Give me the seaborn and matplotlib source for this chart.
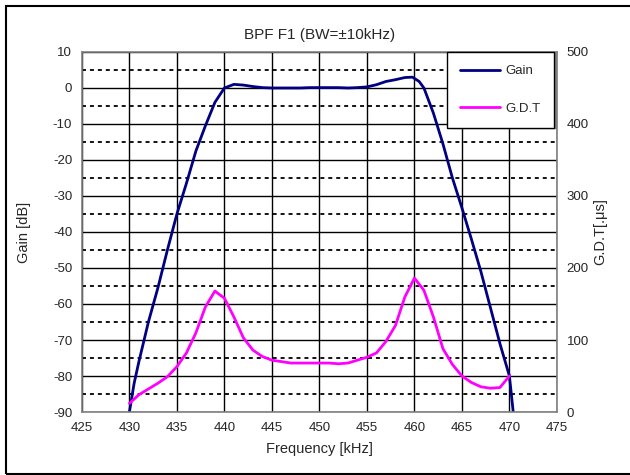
import pandas as pd
import matplotlib.pyplot as plt
import seaborn as sns
from matplotlib.patches import Rectangle

# Gain [dB] vs frequency
gain_freq = [430, 430.5, 431, 432, 433, 434, 435, 436, 437, 438, 439, 440,
             441, 442, 443, 444, 445, 446, 447, 448, 449, 450, 451, 452,
             453, 454, 455, 456, 457, 458, 459, 459.8, 460.5, 461, 462, 463,
             464, 465, 466, 467, 468, 469, 470, 470.4]
gain_db = [-90, -82, -76, -65, -55.5, -45, -35, -26.5, -17.5, -10.5, -4, 0,
           1.0, 0.8, 0.4, 0.1, 0, 0, 0, 0, 0.1, 0.1, 0.1, 0.1,
           0, 0.1, 0.3, 0.9, 1.8, 2.3, 2.9, 3.0, 1.8, 0, -7, -15.5,
           -25, -33.3, -42, -51, -61, -71, -80, -90]

# Group delay time [us] vs frequency
gdt_freq = [430, 431, 432, 433, 434, 435, 436, 437, 438, 439, 440, 441,
            442, 443, 444, 445, 446, 447, 448, 449, 450, 451, 452, 453,
            454, 455, 456, 457, 458, 459, 460, 461, 462, 463, 464, 465,
            466, 467, 468, 469, 470]
gdt_us = [12, 24, 32, 40, 49, 63, 82, 110, 146, 168, 158, 132,
          103, 86, 77, 72, 70, 68, 68, 68, 68, 68, 67, 68,
          72, 76, 82, 98, 120, 160, 186, 169, 132, 88, 66, 50,
          41, 35, 33, 34, 50]

df_gain = pd.DataFrame({"freq": gain_freq, "gain": gain_db})
df_gdt = pd.DataFrame({"freq": gdt_freq, "gdt": gdt_us})

sns.set_style("white")
plt.rcParams['font.family'] = ['Liberation Sans', 'DejaVu Sans']
plt.rcParams['axes.unicode_minus'] = False

fig = plt.figure(figsize=(6.3, 4.75), dpi=100)
ax = fig.add_axes([0.130, 0.1326, 0.754, 0.758])

sns.lineplot(data=df_gain, x="freq", y="gain", ax=ax, color="#000080",
             linewidth=2, sort=False, estimator=None, label="Gain", legend=False)

ax.set_xlim(425, 475)
ax.set_ylim(-90, 10)
ax.set_xticks(range(425, 476, 5))
ax.set_yticks(range(-90, 11, 10))
ax.set_yticks(range(-85, 10, 10), minor=True)
ax.grid(True, which="major", axis="both", color="black", linewidth=1)
ax.grid(True, which="minor", axis="y", color="black", linewidth=1.3,
        linestyle=(0, (2.2, 2.2)))
ax.set_axisbelow(True)
ax.tick_params(axis="both", which="both", length=0, labelsize=9.5, pad=7)
ax.set_xlabel("Frequency [kHz]", fontsize=10.5, labelpad=6)
ax.set_ylabel("Gain [dB]", fontsize=10.5, labelpad=16)
for s in ax.spines.values():
    s.set_color("#808080")
    s.set_linewidth(1.2)

ax2 = ax.twinx()
sns.lineplot(data=df_gdt, x="freq", y="gdt", ax=ax2, color="#FF00FF",
             linewidth=2, sort=False, estimator=None, label="G.D.T", legend=False)
ax2.set_ylim(0, 500)
ax2.set_yticks(range(0, 501, 100))
ax2.tick_params(axis="y", length=0, labelsize=9.5, pad=7)
ax2.set_ylabel("G.D.T[.\u03bcs]", fontsize=10.5, labelpad=3)
ax2.grid(False)
for s in ax2.spines.values():
    s.set_visible(False)

h1, l1 = ax.get_legend_handles_labels()
h2, l2 = ax2.get_legend_handles_labels()
leg = ax2.legend(h1 + h2, l1 + l2, loc="upper right",
                 bbox_to_anchor=(0.993, 1.0), frameon=True, fancybox=False,
                 edgecolor="black", framealpha=1, fontsize=9.5,
                 labelspacing=1.9, handlelength=3.0, borderpad=1.0,
                 borderaxespad=0, handletextpad=0.4,
                 shadow={"ox": 2, "oy": 0, "color": "#808080", "alpha": 1})
leg.get_frame().set_linewidth(1)

ax.set_title("BPF F1 (BW=\u00b110kHz)", fontsize=11, pad=9)

# outer border around the chart (right side runs off the image)
fig.patches.append(Rectangle((0.0095, 0.003), 1.1, 0.984, transform=fig.transFigure,
                             fill=False, edgecolor="black", linewidth=1.5))

fig.savefig("out.png", dpi=100)
